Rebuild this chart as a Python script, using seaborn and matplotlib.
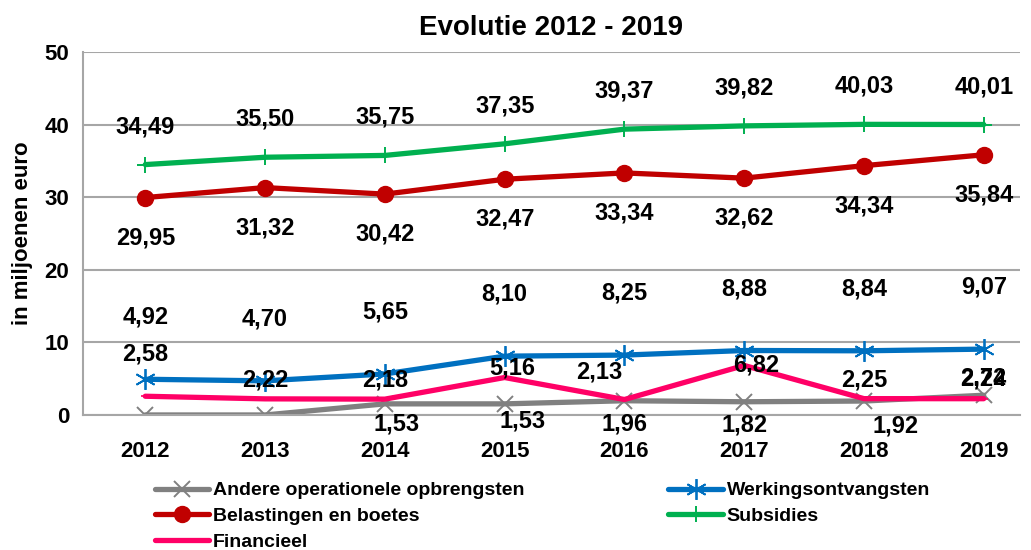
import numpy as np
import pandas as pd
import matplotlib
matplotlib.use('Agg')
import matplotlib.pyplot as plt
import seaborn as sns
from matplotlib.lines import Line2D

years = ['2012', '2013', '2014', '2015', '2016', '2017', '2018', '2019']

andere = [0, 0, 1.53, 1.53, 1.96, 1.82, 1.92, 2.72]
werking = [4.92, 4.70, 5.65, 8.10, 8.25, 8.88, 8.84, 9.07]
belastingen = [29.95, 31.32, 30.42, 32.47, 33.34, 32.62, 34.34, 35.84]
subsidies = [34.49, 35.50, 35.75, 37.35, 39.37, 39.82, 40.03, 40.01]
financieel = [2.58, 2.22, 2.18, 5.16, 2.13, 6.82, 2.25, 2.24]

names = ['Andere operationele opbrengsten', 'Werkingsontvangsten',
         'Belastingen en boetes', 'Subsidies', 'Financieel']
values = [andere, werking, belastingen, subsidies, financieel]

# label offsets in pixels (dx, dy), one list per series
label_offsets = {
    'Andere operationele opbrengsten': [None, None, (12, -20), (18, -17), (0, -23), (0, -23), (32, -25), (0, 17)],
    'Werkingsontvangsten': [(0, 62)] * 8,
    'Belastingen en boetes': [(0, -40)] * 8,
    'Subsidies': [(0, 38)] * 8,
    'Financieel': [(0, 42), (0, 19), (0, 19), (8, 10), (-25, 28), (12, 0), (0, 19), (0, 20)],
}

styles = {
    'Andere operationele opbrengsten': dict(color='#808080', marker='x', ms=12, mew=1.4),
    'Werkingsontvangsten': dict(color='#0070C0', marker=(6, 2, 0), ms=15, mew=1.3),
    'Belastingen en boetes': dict(color='#C00000', marker='o', ms=11.5, mew=1),
    'Subsidies': dict(color='#00B050', marker='+', ms=11, mew=1.4),
    'Financieel': dict(color='#FF0066', marker='_', ms=6, mew=1.2),
}

df = pd.DataFrame({
    'year': np.tile(np.arange(len(years)), len(names)),
    'serie': np.repeat(names, len(years)),
    'value': np.concatenate(values),
})

sns.set_theme(style='white')
plt.rcParams['font.family'] = ['Liberation Sans Narrow', 'Liberation Sans', 'DejaVu Sans']
plt.rcParams['font.weight'] = 'bold'
plt.rcParams['text.color'] = 'black'
plt.rcParams['axes.labelcolor'] = 'black'
plt.rcParams['xtick.color'] = 'black'
plt.rcParams['ytick.color'] = 'black'

fig = plt.figure(figsize=(10.31, 5.5), dpi=100)
ax = fig.add_axes([0.0805, 0.2455, 0.9085, 0.66])

order = ['Andere operationele opbrengsten', 'Financieel', 'Werkingsontvangsten',
         'Belastingen en boetes', 'Subsidies']
for name in order:
    st = styles[name]
    sub = df[df['serie'] == name]
    sns.lineplot(data=sub, x='year', y='value', ax=ax, color=st['color'], lw=3.8,
                 marker=st['marker'], markersize=st['ms'], markeredgewidth=st['mew'],
                 markeredgecolor=st['color'], legend=False)

for name, vals in zip(names, values):
    for i, v in enumerate(vals):
        off = label_offsets[name][i]
        if off is None:
            continue
        ax.annotate(f'{v:.2f}'.replace('.', ','), (i, v), xytext=(off[0] * 0.72, off[1] * 0.72),
                    textcoords='offset points', ha='center', va='center',
                    fontsize=17, fontweight='bold', color='black')

ax.set_xlim(-0.52, 7.3)
ax.set_ylim(0, 50)
ax.set_yticks(range(0, 51, 10))
ax.set_xticks(range(len(years)))
ax.set_xticklabels(years)
ax.tick_params(axis='x', length=0, labelsize=16, pad=19)
ax.tick_params(axis='y', length=0, labelsize=16, pad=10)
for lab in ax.get_xticklabels() + ax.get_yticklabels():
    lab.set_fontweight('bold')
ax.yaxis.grid(True, color='#A6A6A6', lw=1.5)
ax.set_axisbelow(True)
for s in ['top', 'right']:
    ax.spines[s].set_visible(False)
for s in ['left', 'bottom']:
    ax.spines[s].set_color('#A6A6A6')
    ax.spines[s].set_linewidth(1.5)
ax.set_xlabel('')
ax.set_ylabel('in miljoenen euro', fontsize=16, fontweight='bold', labelpad=8)
ax.set_title('Evolutie 2012 - 2019', fontsize=20, fontweight='bold', pad=12)

leg_names = ['Andere operationele opbrengsten', 'Belastingen en boetes', 'Financieel',
             'Werkingsontvangsten', 'Subsidies']
handles = []
for name in leg_names:
    st = styles[name]
    handles.append(Line2D([], [], color=st['color'], lw=3.8, marker=st['marker'],
                          markersize=st['ms'], markeredgewidth=st['mew'],
                          markeredgecolor=st['color']))
fig.legend(handles, leg_names, ncol=2, loc='upper left', bbox_to_anchor=(0.150, 0.124),
           frameon=False, handlelength=2.8, handletextpad=0.2,
           columnspacing=7.4, labelspacing=0.42, borderaxespad=0, borderpad=0,
           prop={'weight': 'bold', 'size': 14})

fig.savefig('out.png', dpi=100)
